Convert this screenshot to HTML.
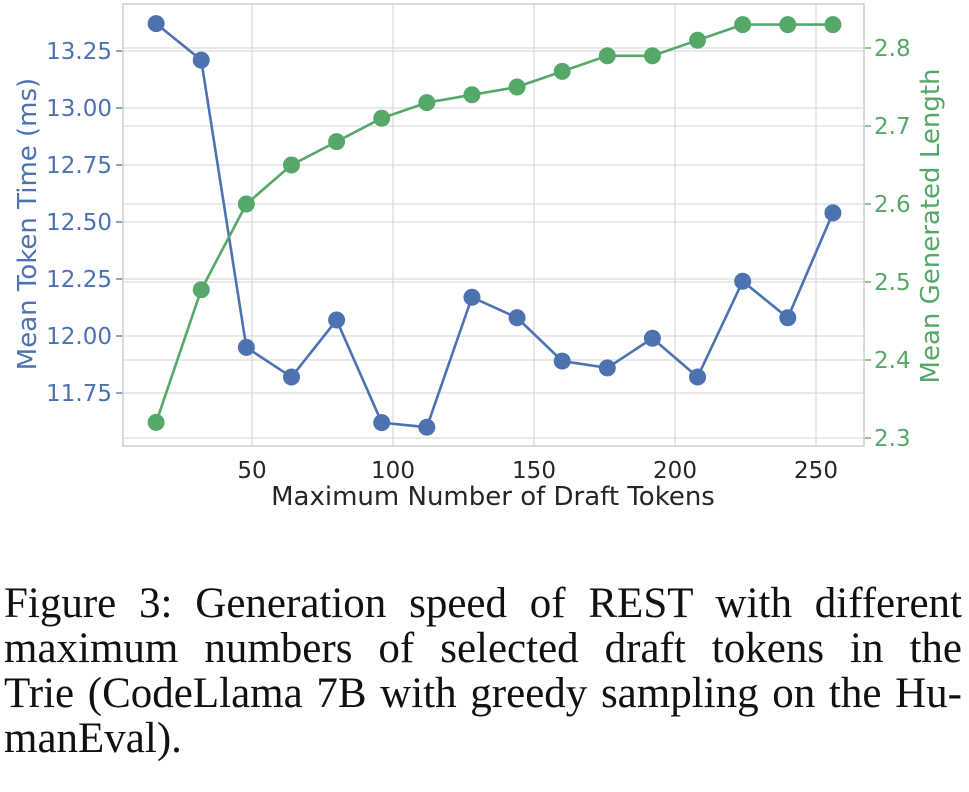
<!DOCTYPE html>
<html><head><meta charset="utf-8"><style>
body{margin:0;background:#fff;width:969px;height:792px;overflow:hidden;position:relative}
#cap{position:absolute;left:4px;top:581px;width:958px;font-family:"Liberation Serif",serif;font-size:43px;line-height:45px;color:#111}
#cap div{text-align:justify;text-align-last:justify;white-space:nowrap}
#cap div.last{text-align-last:left}
</style></head><body>
<svg id="chart" width="969" height="560" style="position:absolute;left:0;top:0" font-family="DejaVu Sans, sans-serif"></svg>
<div id="cap">
<div>Figure 3: Generation speed of REST with different</div>
<div>maximum numbers of selected draft tokens in the</div>
<div>Trie (CodeLlama 7B with greedy sampling on the Hu-</div>
<div class="last">manEval).</div>
</div>
<script>
const xs=[16,32,48,64,80,96,112,128,144,160,176,192,208,224,240,256];
const timeVals=[13.37,13.21,11.95,11.82,12.07,11.62,11.60,12.17,12.08,11.89,11.86,11.99,11.82,12.24,12.08,12.54];
const lenVals=[2.32,2.49,2.60,2.65,2.68,2.71,2.73,2.74,2.75,2.77,2.79,2.79,2.81,2.83,2.83,2.83];
const xTicks=[50,100,150,200,250];
const leftTicks=[11.75,12.00,12.25,12.50,12.75,13.00,13.25];
const rightTicks=[2.3,2.4,2.5,2.6,2.7,2.8];
const L=123,R=864,T=4,B=446;
const X=v=>252+(v-50)*2.82;
const YL=v=>51+(13.25-v)*228;
const YR=v=>48+(2.8-v)*780;
const svg=document.getElementById('chart');const NS='http://www.w3.org/2000/svg';
function mk(t,a,p){const e=document.createElementNS(NS,t);for(const k in a)e.setAttribute(k,a[k]);(p||svg).appendChild(e);return e;}
const BL='#4c72b0',GR='#55a868',GC='#dcdcdc';
xTicks.forEach(v=>{const g=mk('line',{x1:X(v),x2:X(v),y1:T,y2:B,stroke:GC,'stroke-width':1.3});

});
leftTicks.forEach(v=>{const g=mk('line',{x1:L,x2:R,y1:YL(v),y2:YL(v),stroke:GC,'stroke-width':1.3});


mk('line',{x1:L-7,x2:L,y1:YL(v),y2:YL(v),stroke:BL,'stroke-width':1.3});
const tx=mk('text',{x:L-11,y:YL(v)+8,'text-anchor':'end','font-size':23,fill:BL});tx.textContent=v.toFixed(2);

});
rightTicks.forEach(v=>{const g=mk('line',{x1:L,x2:R,y1:YR(v),y2:YR(v),stroke:GC,'stroke-width':1.3});


mk('line',{x1:R,x2:R+7,y1:YR(v),y2:YR(v),stroke:GR,'stroke-width':1.3});
const tx=mk('text',{x:R+10,y:YR(v)+8,'font-size':23,fill:GR});tx.textContent=v.toFixed(1);

});
const fr=mk('rect',{x:L,y:T,width:R-L,height:B-T,fill:'none',stroke:'#cfcfcf','stroke-width':1.5});


xTicks.forEach(v=>{const tx=mk('text',{x:X(v),y:B+32,'text-anchor':'middle','font-size':23,fill:'#262626'});tx.textContent=v;

});
function series(vals,Y,c,name){
const p=mk('polyline',{points:xs.map((x,i)=>X(x)+','+Y(vals[i])).join(' '),fill:'none',stroke:c,'stroke-width':2.6});


xs.forEach((x,i)=>{const d=mk('circle',{cx:X(x),cy:Y(vals[i]),r:8.5,fill:c});

});}
series(timeVals,YL,BL,'token-time');
series(lenVals,YR,GR,'generated-length');
let t=mk('text',{x:493,y:505,'text-anchor':'middle','font-size':26,fill:'#262626'});t.textContent='Maximum Number of Draft Tokens';


t=mk('text',{x:0,y:0,'text-anchor':'middle','font-size':26,fill:BL,transform:'translate(36,224) rotate(-90)'});t.textContent='Mean Token Time (ms)';


t=mk('text',{x:0,y:0,'text-anchor':'middle','font-size':26,fill:GR,transform:'translate(939,226) rotate(-90)'});t.textContent='Mean Generated Length';


</script>
</body></html>
